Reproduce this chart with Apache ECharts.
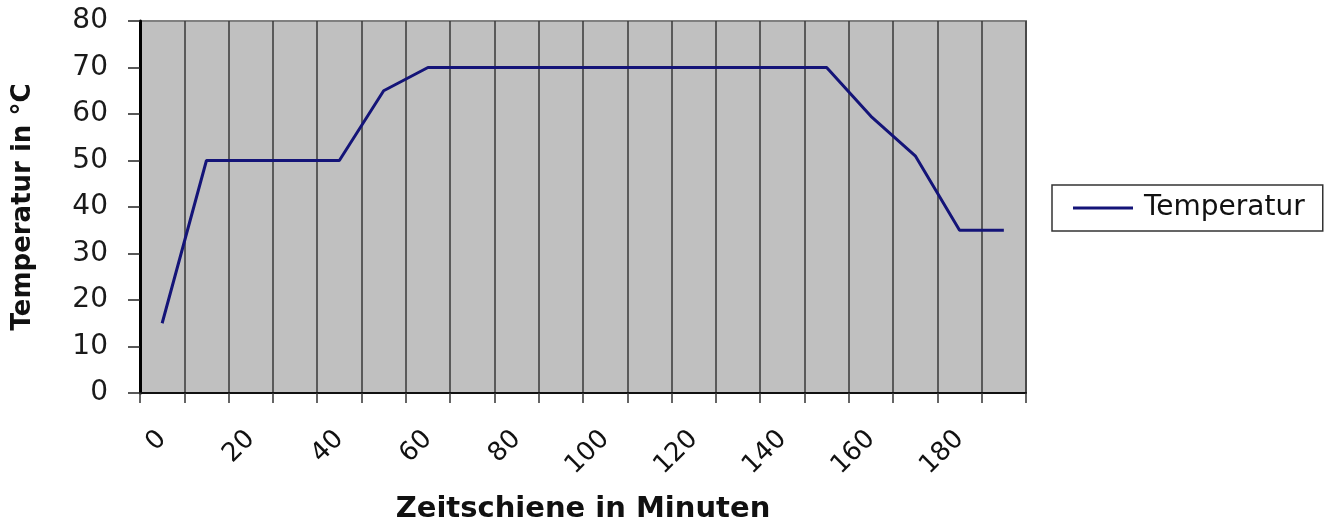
<!DOCTYPE html>
<html>
<head>
<meta charset="utf-8">
<script src="https://cdn.jsdelivr.net/npm/echarts@6/dist/echarts.min.js"></script>
<style>
html,body{margin:0;padding:0;background:#fff;}
#chart{width:1332px;height:524px;}
</style>
</head>
<body>
<div id="chart"></div>
<script>
// Minutes (categories)
var minutes = ['0','10','20','30','40','50','60','70','80','90','100','110','120','130','140','150','160','170','180','190'];
// Temperature in °C
var temperatur = [15, 50, 50, 50, 50, 65, 70, 70, 70, 70, 70, 70, 70, 70, 70, 70, 59.5, 51, 35, 35];
var seriesName = 'Temperatur';
var xTitle = 'Zeitschiene in Minuten';
var yTitle = 'Temperatur in °C';

var chart = echarts.init(document.getElementById('chart'), null, {renderer:'canvas'});
var font = 'DejaVu Sans';
chart.setOption({
  animation: false,
  backgroundColor: '#ffffff',
  grid: {
    left: 140, top: 21, right: 306, bottom: 131,
    outerBoundsMode: 'none',
    containLabel: false,
    show: true, backgroundColor: '#c0c0c0', borderColor: '#808080', borderWidth: 2
  },
  legend: {
    show: true,
    orient: 'vertical',
    left: 1052, top: 185,
    padding: [9, 18, 9, 21],
    borderColor: '#333', borderWidth: 1.5, borderRadius: 0,
    backgroundColor: '#fff',
    itemWidth: 60, itemHeight: 3, itemGap: 0,
    icon: 'rect',
    textStyle: {fontFamily: font, fontSize: 28, color: '#111', padding: [0, 0, 0, 6]},
    data: [{name: seriesName, icon: 'rect'}]
  },
  xAxis: {
    type: 'category',
    data: minutes,
    boundaryGap: true,
    name: xTitle,
    nameLocation: 'middle',
    nameGap: 102,
    nameTextStyle: {fontFamily: font, fontSize: 29, fontWeight: 'bold', color: '#111'},
    axisLine: {show: true, lineStyle: {color: '#111', width: 2}},
    axisTick: {show: true, interval: 0, length: 10, lineStyle: {color: '#333', width: 1.5}},
    axisLabel: {interval: 1, rotate: 45, margin: 42, fontFamily: font, fontSize: 26, color: '#111'},
    splitLine: {show: true, interval: 0, lineStyle: {color: '#383838', width: 1.5}}
  },
  yAxis: {
    type: 'value',
    min: 0, max: 80, interval: 10,
    name: yTitle,
    nameLocation: 'middle',
    nameGap: 104,
    nameRotate: 90,
    nameTextStyle: {fontFamily: font, fontSize: 26, fontWeight: 'bold', color: '#111'},
    axisLine: {show: true, lineStyle: {color: '#000', width: 3}},
    axisTick: {show: true, inside: false, length: 12, lineStyle: {color: '#222', width: 1.5}},
    axisLabel: {margin: 32, fontFamily: font, fontSize: 28, color: '#1a1a1a'},
    splitLine: {show: false}
  },
  series: [{
    name: seriesName,
    type: 'line',
    data: temperatur,
    showSymbol: false,
    symbol: 'none',
    lineStyle: {color: '#141478', width: 3},
    itemStyle: {color: '#141478'}
  }]
});
</script>
</body>
</html>
